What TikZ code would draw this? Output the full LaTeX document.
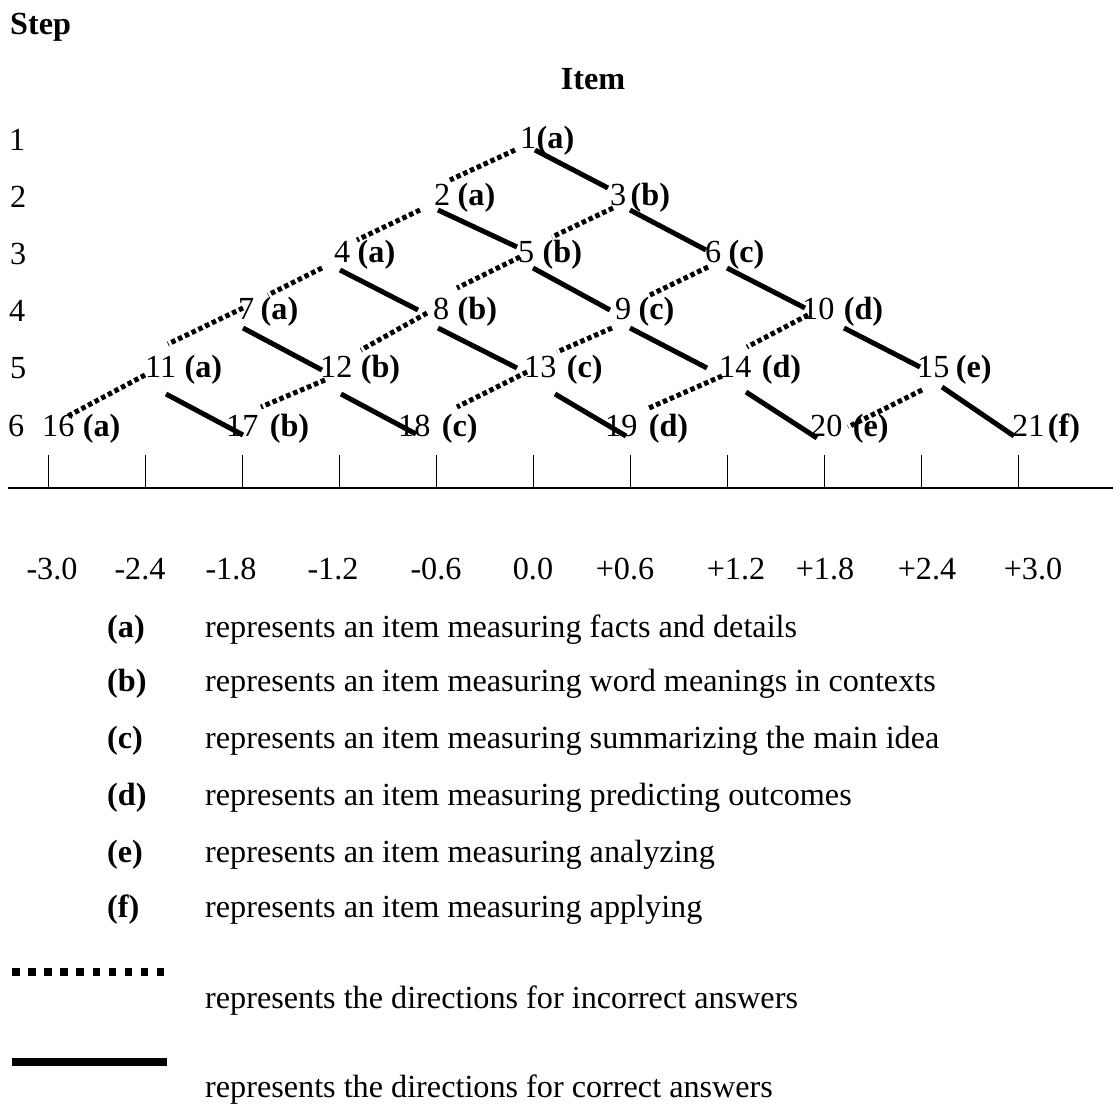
\documentclass[tikz,border=0pt]{standalone}
\usepackage{fontspec}
\setmainfont{Liberation Serif}
\usetikzlibrary{calc}
\newcommand\bigfont{\fontsize{32.2}{38}\selectfont}
\tikzset{
  num/.style={inner sep=0pt, anchor=base west, font=\bigfont},
  lab/.style={inner sep=0pt, anchor=base west, font=\bigfont\bfseries},
  corr/.style={line width=5pt},
  incorr/.style={line width=5pt, dash pattern=on 4.5pt off 3pt},
  tickline/.style={line width=1.5pt},
  ticklab/.style={inner sep=0pt, anchor=base, font=\bigfont},
  legtext/.style={inner sep=0pt, anchor=base west, font=\bigfont}
}
\newcommand\mkitem[5]{%
  \node[num] (n#1) at (#2,#3) {#1};
  \node[lab, xshift=#5pt] (l#1) at (n#1.base east) {(#4)};}
\newcommand\corline[6]{\draw[corr] ($(n#1.base west)+(#3,#4)$) -- ($(n#2.base west)+(#5,#6)$);}
\newcommand\incline[6]{\draw[incorr] ($(n#1.base west)+(#3,#4)$) -- ($(n#2.base west)+(#5,#6)$);}
\begin{document}
\begin{tikzpicture}[x=1pt,y=-1pt]
\useasboundingbox (0,0) rectangle (1113,1105);
% titles
\node[lab] (steptitle) at (10,35) {Step};
\node[lab, anchor=base] (itemtitle) at (593,90) {Item};
% step labels
\node[num] (s1) at (9,150) {1};
\node[num] (s2) at (10,207) {2};
\node[num] (s3) at (10,264) {3};
\node[num] (s4) at (9,321) {4};
\node[num] (s5) at (10,378) {5};
\node[num] (s6) at (8,436) {6};
% items
\mkitem{1}{520}{148}{a}{0}
\mkitem{2}{434}{205}{a}{7}
\mkitem{3}{610}{205}{b}{4}
\mkitem{4}{334}{262}{a}{7}
\mkitem{5}{518}{262}{b}{8}
\mkitem{6}{705}{262}{c}{7}
\mkitem{7}{238}{319}{a}{6}
\mkitem{8}{433}{319}{b}{8}
\mkitem{9}{615}{319}{c}{7}
\mkitem{10}{802}{319}{d}{9}
\mkitem{11}{145}{377}{a}{8}
\mkitem{12}{320}{377}{b}{8}
\mkitem{13}{524}{377}{c}{10}
\mkitem{14}{719}{377}{d}{10}
\mkitem{15}{917}{377}{e}{6}
\mkitem{16}{42}{436}{a}{8}
\mkitem{17}{226}{436}{b}{11}
\mkitem{18}{398}{436}{c}{11}
\mkitem{19}{605}{436}{d}{11}
\mkitem{20}{810}{436}{e}{10}
\mkitem{21}{1012}{436}{f}{3}
% correct answers (solid)
\corline{1}{3}{15}{2}{-2}{-17}
\corline{3}{6}{20}{5}{1}{-12}
\corline{6}{10}{22}{6}{3}{-11}
\corline{10}{15}{42}{9}{3}{-10}
\corline{15}{21}{25}{10}{2}{0}
\corline{2}{5}{4}{5}{-1}{-15}
\corline{5}{9}{15}{6}{-5}{-9}
\corline{9}{14}{15}{9}{-12}{-9}
\corline{14}{20}{27}{15}{7}{2}
\corline{4}{8}{6}{8}{-15}{-9}
\corline{8}{13}{5}{9}{-7}{-9}
\corline{13}{19}{31}{17}{21}{0}
\corline{7}{12}{5}{9}{2}{-7}
\corline{11}{17}{21}{17}{17}{-1}
\corline{12}{18}{21}{17}{18}{-2}
% incorrect answers (dotted)
\incline{1}{2}{-5}{2}{16}{-25}
\incline{2}{4}{-14}{5}{23}{-22}
\incline{3}{5}{3}{3}{34}{-25}
\incline{4}{7}{-12}{6}{30}{-24}
\incline{5}{8}{2}{-5}{24}{-31}
\incline{6}{9}{3}{5}{35}{-24}
\incline{7}{11}{5}{-11}{23}{-33}
\incline{8}{12}{-6}{-6}{41}{-27}
\incline{9}{13}{-3}{9}{33}{-25}
\incline{10}{14}{6}{-4}{28}{-30}
\incline{11}{16}{0}{-2}{26}{-20}
\incline{12}{17}{5}{3}{35}{-29}
\incline{13}{18}{3}{-5}{59}{-29}
\incline{14}{19}{3}{-1}{44}{-28}
\incline{15}{20}{5}{13}{38}{-9}
% axis
\coordinate (axL) at (8,488);
\coordinate (axR) at (1113,488);
\draw[line width=2.5pt] (axL) -- (axR);
\foreach \i in {0,...,10}{
  \draw[tickline] ({48.3+97*\i},455) -- ({48.3+97*\i},488);
}
\node[ticklab] (t0) at (52,579) {-3.0};
\node[ticklab] (t1) at (140,579) {-2.4};
\node[ticklab] (t2) at (231,579) {-1.8};
\node[ticklab] (t3) at (333,579) {-1.2};
\node[ticklab] (t4) at (436,579) {-0.6};
\node[ticklab] (t5) at (533,579) {0.0};
\node[ticklab] (t6) at (625,579) {+0.6};
\node[ticklab] (t7) at (736,579) {+1.2};
\node[ticklab] (t8) at (825,579) {+1.8};
\node[ticklab] (t9) at (927,579) {+2.4};
\node[ticklab] (t10) at (1033,579) {+3.0};
% legend
\node[lab] (ka) at (107,637) {(a)};
\node[legtext] (ta) at (205,637) {represents an item measuring facts and details};
\node[lab] (kb) at (107,691) {(b)};
\node[legtext] (tb) at (205,691) {represents an item measuring word meanings in contexts};
\node[lab] (kc) at (107,748) {(c)};
\node[legtext] (tc) at (205,748) {represents an item measuring summarizing the main idea};
\node[lab] (kd) at (107,805) {(d)};
\node[legtext] (td) at (205,805) {represents an item measuring predicting outcomes};
\node[lab] (ke) at (107,862) {(e)};
\node[legtext] (te) at (205,862) {represents an item measuring analyzing};
\node[lab] (kf) at (107,917) {(f)};
\node[legtext] (tf) at (205,917) {represents an item measuring applying};
\coordinate (dotA) at (12,972);
\coordinate (dotB) at (167,972);
\draw[line width=8pt, dash pattern=on 7.5pt off 8.6pt] (dotA) -- (dotB);
\node[legtext] (tinc) at (205,1008) {represents the directions for incorrect answers};
\coordinate (solA) at (12,1062);
\coordinate (solB) at (167,1062);
\draw[line width=8pt] (solA) -- (solB);
\node[legtext] (tcor) at (205,1097) {represents the directions for correct answers};
\end{tikzpicture}
\end{document}
